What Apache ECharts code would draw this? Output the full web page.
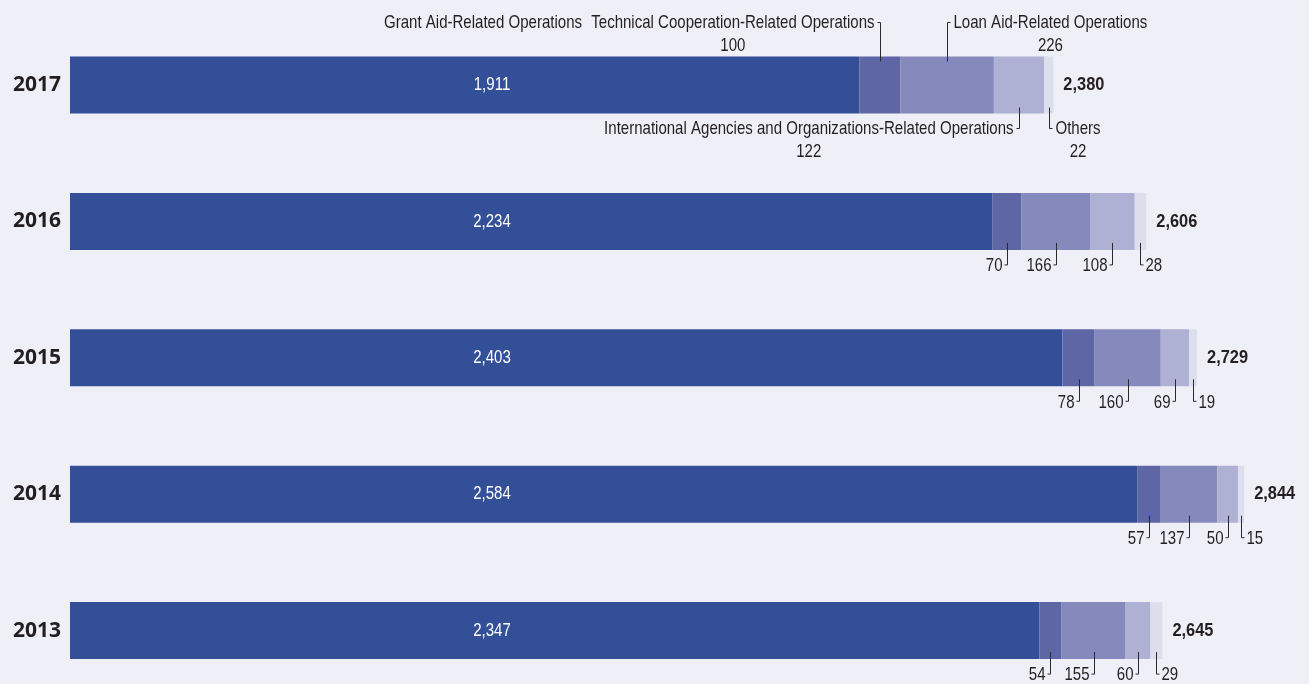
<!DOCTYPE html>
<html>
<head>
<meta charset="utf-8">
<script src="https://cdn.jsdelivr.net/npm/echarts@6/dist/echarts.min.js"></script>
<style>
  html, body { margin: 0; padding: 0; background: #efeff7; }
  #chart { width: 1309px; height: 684px; }
</style>
</head>
<body>
<div id="chart"></div>
<script>
var years = ['2017', '2016', '2015', '2014', '2013'];
var grant = [1911, 2234, 2403, 2584, 2347];
var technical = [100, 70, 78, 57, 54];
var loan = [226, 166, 160, 137, 155];
var intl = [122, 108, 69, 50, 60];
var others = [22, 28, 19, 15, 29];
var totals = [2380, 2606, 2729, 2844, 2645];
var names = [
  'Grant Aid-Related Operations',
  'Technical Cooperation-Related Operations',
  'Loan Aid-Related Operations',
  'International Agencies and Organizations-Related Operations',
  'Others'
];

var colors = ['#334f97', '#5e66a5', '#8589bb', '#aeb1d4', '#dcdeed'];
var textColor = '#231f20';
var fontNormal = '19px "Liberation Sans", Arial, sans-serif';
var fontBold = 'bold 19px "Liberation Sans", Arial, sans-serif';
var halfBar = 28.5;

function fmt(n) {
  return String(n).replace(/\B(?=(\d{3})+(?!\d))/g, ',');
}

// the original uses a condensed face; squeeze a regular one to the same width
var measureCtx = document.createElement('canvas').getContext('2d');
function rawWidth(s, font) {
  measureCtx.font = font;
  return measureCtx.measureText(s).width;
}
var squeeze = 198 / rawWidth(names[0], fontNormal);
var squeezeBold = 41 / rawWidth('2,380', fontBold);
function textWidth(s) {
  return rawWidth(s, fontNormal) * squeeze;
}

// label items: [start, end, yearIndex, segmentIndex]
var parts = [grant, technical, loan, intl, others];
var labelData = [];
years.forEach(function(y, i) {
  var acc = 0;
  parts.forEach(function(arr, k) {
    var start = acc;
    acc += arr[i];
    labelData.push([start, acc, i, k]);
  });
});

function txt(x, y, s, align, opts) {
  opts = opts || {};
  return {
    type: 'text', x: x, y: y,
    scaleX: opts.bold ? squeezeBold : squeeze,
    style: {
      text: s,
      font: opts.bold ? fontBold : fontNormal,
      fill: opts.fill || textColor,
      align: align,
      verticalAlign: 'middle'
    }
  };
}

function renderLabel(params, api) {
  var start = api.value(0), end = api.value(1);
  var i = api.value(2), k = api.value(3);
  var p = api.coord([(start + end) / 2, i]);
  var x = Math.round(p[0]) + 0.5;
  var cy = p[1];
  var top = cy - halfBar, bottom = cy + halfBar;
  var children = [];
  var lineStyle = {stroke: '#2a2a2a', lineWidth: 1, fill: null};
  var value = parts[k][i];

  if (k === 0) {
    var x0 = api.coord([0, i])[0];
    children.push(txt(x0 + 422, cy, fmt(value), 'center', {fill: '#ffffff'}));
    if (i === 0) {
      children.push(txt(483, top - 34, names[0], 'center'));
    }
    return {type: 'group', children: children};
  }

  var leftSide = (i === 0) ? (k === 1 || k === 3) : (k !== 4);
  var dir = leftSide ? -1 : 1;
  var align = leftSide ? 'right' : 'left';

  if (i === 0) {
    var above = (k === 1 || k === 2);
    var y0 = above ? top + 5 : bottom - 6;
    var y1 = above ? top - 34 : bottom + 15;
    children.push({
      type: 'polyline',
      shape: {points: [[x, y0], [x, y1], [x + dir * 3, y1]]},
      style: lineStyle
    });
    var tx = x + dir * 6;
    var w = textWidth(names[k]);
    children.push(txt(tx, y1, names[k], align));
    children.push(txt(tx + dir * w / 2, y1 + 23, fmt(value), 'center'));
  } else {
    var yb = bottom + 15;
    children.push({
      type: 'polyline',
      shape: {points: [[x, bottom - 7], [x, yb], [x + dir * 3, yb]]},
      style: lineStyle
    });
    children.push(txt(x + dir * 5, yb + 1, fmt(value), align));
  }

  if (k === 4) {
    var xe = api.coord([end, i])[0];
    children.push(txt(xe + 10, cy, fmt(totals[i]), 'left', {bold: true}));
  }
  return {type: 'group', children: children};
}

var chart = echarts.init(document.getElementById('chart'));

var series = parts.map(function(arr, k) {
  return {
    name: names[k],
    type: 'bar',
    stack: 'total',
    barWidth: 57,
    itemStyle: {color: colors[k]},
    data: arr,
    silent: true
  };
});

series.push({
  type: 'custom',
  coordinateSystem: 'cartesian2d',
  renderItem: renderLabel,
  encode: {x: [0, 1], y: 2},
  data: labelData,
  z: 5,
  silent: true
});

chart.setOption({
  backgroundColor: '#efeff7',
  animation: false,
  grid: {left: 70, top: 85, width: 1243.5, height: 545.6},
  xAxis: {type: 'value', min: 0, max: 3000, show: false},
  yAxis: {
    type: 'category',
    data: years,
    inverse: true,
    boundaryGap: false,
    axisLine: {show: false},
    axisTick: {show: false},
    axisLabel: {
      margin: 9,
      color: textColor,
      fontSize: 21,
      fontWeight: 'bold',
      fontFamily: '"Open Sans", sans-serif'
    }
  },
  series: series
});
</script>
</body>
</html>
